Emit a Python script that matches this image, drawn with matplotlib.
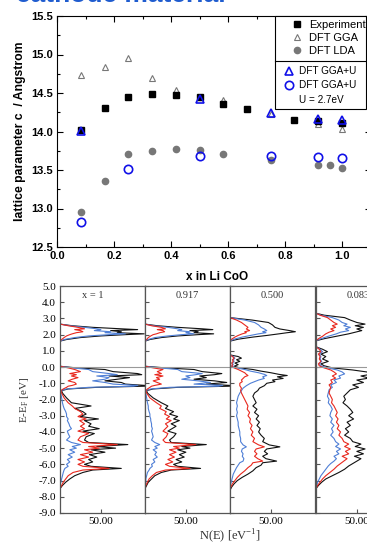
import matplotlib
matplotlib.use("Agg")
import matplotlib.pyplot as plt
from matplotlib.patches import Rectangle
from matplotlib.ticker import MultipleLocator, FormatStrFormatter


# ---- top panel: lattice parameter c vs x in LixCoO2 ----
x_exp = [0.083, 0.167, 0.25, 0.333, 0.417, 0.5, 0.583, 0.667, 0.833, 0.917, 1.0]
c_exp = [14.02, 14.31, 14.45, 14.49, 14.48, 14.45, 14.36, 14.29, 14.15, 14.14, 14.11]

x_gga = [0.083, 0.167, 0.25, 0.333, 0.417, 0.5, 0.583, 0.75, 0.917, 1.0]
c_gga = [14.73, 14.84, 14.96, 14.69, 14.54, 14.45, 14.41, 14.23, 14.10, 14.03]

x_lda = [0.083, 0.167, 0.25, 0.333, 0.417, 0.5, 0.583, 0.75, 0.917, 0.958, 1.0]
c_lda = [12.95, 13.36, 13.71, 13.75, 13.77, 13.76, 13.71, 13.63, 13.56, 13.56, 13.52]

x_ggau = [0.083, 0.5, 0.75, 0.917, 1.0]
c_ggau = [14.01, 14.42, 14.24, 14.16, 14.15]

x_ggau27 = [0.083, 0.25, 0.5, 0.75, 0.917, 1.0]
c_ggau27 = [12.82, 13.51, 13.68, 13.68, 13.67, 13.66]

# ---- bottom panels: DOS for x = 1, 0.917, 0.500, 0.083 ----
panel_labels = ["x = 1", "0.917", "0.500", "0.083"]

e_x1 = [2.65, 2.55, 2.45, 2.36, 2.31, 2.25, 2.18, 2.12, 2.05, 2.00, 1.92, 1.82, 1.70, 1.60,
        0.05, -0.05, -0.15, -0.28, -0.40, -0.47, -0.55, -0.65, -0.75, -0.85, -0.95, -1.05,
        -1.13, -1.18, -1.25, -1.35, -1.45,
        -1.6, -1.9, -2.2, -2.4, -2.55, -2.75, -2.9, -3.05, -3.2, -3.3, -3.5, -3.65, -3.8,
        -3.95, -4.1, -4.3, -4.5, -4.65, -4.78, -4.9, -5.0, -5.1, -5.25, -5.4, -5.55, -5.7,
        -5.85, -6.0, -6.12, -6.25, -6.35, -6.5, -6.7, -6.9, -7.1, -7.3, -7.5]
tot_x1 = [0, 15, 40, 75, 95, 62, 75, 70, 103, 80, 50, 25, 8, 0,
          0, 20, 55, 65, 95, 100, 60, 85, 70, 55, 75, 80, 104, 104, 45, 10, 2,
          3, 8, 14, 38, 18, 28, 32, 25, 47, 30, 38, 35, 48, 28, 42, 32, 30, 35, 83, 45, 68,
          38, 55, 36, 45, 35, 40, 30, 38, 75, 40, 28, 18, 12, 7, 3, 0]
co_x1 = [0, 12, 30, 45, 50, 42, 62, 55, 80, 60, 35, 18, 5, 0,
         0, 15, 35, 40, 60, 70, 45, 60, 55, 40, 55, 65, 95, 90, 35, 8, 1,
         1, 2, 3, 4, 5, 7, 8, 8, 10, 9, 11, 12, 14, 9, 10, 12, 8, 14, 25, 15, 20,
         12, 18, 10, 15, 9, 12, 8, 10, 6, 5, 4, 3, 2, 1, 0, 0]
o_x1 = [0, 10, 22, 30, 18, 25, 28, 20, 15, 12, 8, 5, 2, 0,
        0, 10, 18, 25, 12, 20, 14, 22, 15, 10, 18, 20, 15, 10, 8, 4, 1,
        2, 5, 10, 15, 18, 25, 28, 22, 32, 24, 30, 25, 30, 22, 35, 25, 22, 28, 70, 35, 48,
        30, 40, 25, 35, 22, 30, 22, 28, 60, 28, 16, 10, 7, 4, 2, 0]

e_x0917 = e_x1
tot_x0917 = [0, 15, 40, 70, 83, 55, 65, 60, 84, 65, 40, 20, 6, 0,
             0, 25, 60, 70, 94, 85, 67, 75, 60, 85, 100, 75, 104, 104, 40, 10, 2,
             3, 10, 20, 28, 25, 35, 30, 40, 35, 42, 32, 38, 33, 28, 38, 35, 30, 32, 75, 45, 55,
             40, 50, 42, 48, 38, 45, 35, 40, 68, 32, 20, 12, 8, 4, 2, 0]
co_x0917 = [0, 10, 28, 40, 45, 40, 55, 50, 60, 45, 28, 12, 4, 0,
            0, 18, 40, 45, 70, 62, 50, 55, 45, 65, 80, 60, 95, 90, 30, 7, 1,
            1, 2, 3, 4, 4, 5, 6, 6, 7, 7, 8, 8, 9, 8, 9, 10, 8, 12, 18, 12, 15,
            10, 14, 12, 15, 10, 12, 8, 9, 6, 5, 3, 2, 1, 1, 0, 0]
o_x0917 = [0, 8, 20, 25, 15, 22, 24, 18, 14, 10, 7, 4, 2, 0,
           0, 10, 22, 15, 20, 12, 22, 14, 18, 10, 15, 20, 12, 8, 6, 3, 1,
           2, 6, 14, 20, 18, 26, 24, 30, 26, 32, 25, 28, 25, 22, 28, 26, 22, 25, 62, 35, 42,
           30, 38, 30, 36, 28, 34, 25, 30, 55, 25, 14, 9, 5, 3, 1, 0]

e_x05 = [3.05, 2.9, 2.75, 2.6, 2.45, 2.35, 2.25, 2.18, 2.12, 2.05, 1.95, 1.85, 1.72, 1.60,
         0.75, 0.65, 0.55, 0.45, 0.35, 0.25, 0.15, 0.05, -0.05, -0.15, -0.25, -0.35, -0.45,
         -0.52, -0.6, -0.7, -0.8, -0.9, -1.0, -1.15, -1.3, -1.45,
         -1.6, -1.8, -2.0, -2.2, -2.4, -2.6, -2.8, -3.0, -3.2, -3.4, -3.6, -3.8, -4.0, -4.2,
         -4.4, -4.6, -4.8, -4.92, -5.05, -5.2, -5.35, -5.5, -5.65, -5.8, -5.9, -6.05, -6.2,
         -6.4, -6.6, -6.8, -7.0, -7.2, -7.4, -7.6]
tot_x05 = [0, 27, 47, 52, 55, 61, 73, 80, 70, 60, 45, 28, 10, 0,
           0, 10, 14, 8, 12, 6, 10, 5, 12, 28, 38, 50, 60, 70, 58, 65, 52, 55, 45, 42, 36, 34,
           30, 28, 30, 32, 28, 33, 30, 35, 32, 36, 33, 37, 35, 38, 42, 40, 48, 61, 45, 42, 46,
           40, 44, 57, 40, 38, 32, 28, 22, 15, 9, 5, 2, 0]
co_x05 = [0, 18, 30, 35, 38, 42, 45, 40, 44, 35, 25, 15, 5, 0,
          0, 4, 6, 4, 5, 3, 4, 2, 8, 18, 25, 35, 42, 45, 40, 42, 35, 30, 25, 20, 16, 14,
          12, 10, 9, 8, 9, 8, 9, 8, 9, 10, 10, 11, 12, 12, 13, 13, 16, 20, 15, 14, 16,
          15, 17, 16, 12, 10, 8, 6, 4, 3, 2, 1, 0, 0]
o_x05 = [0, 8, 14, 18, 22, 20, 24, 18, 20, 15, 10, 6, 2, 0,
         0, 3, 5, 3, 4, 2, 3, 2, 5, 10, 14, 18, 20, 22, 18, 16, 14, 15, 12, 12, 14, 13,
         14, 16, 18, 20, 22, 21, 24, 22, 25, 24, 27, 25, 28, 26, 30, 28, 35, 42, 32, 30, 33,
         30, 34, 40, 28, 26, 22, 18, 13, 9, 6, 3, 1, 0]

e_x0083 = [3.32, 3.2, 3.05, 2.9, 2.75, 2.65, 2.55, 2.45, 2.35, 2.25, 2.15, 2.05, 1.9, 1.75, 1.62,
           1.25, 1.1, 0.95, 0.8, 0.65, 0.5, 0.35, 0.2, 0.08, -0.05, -0.18, -0.3, -0.42, -0.55,
           -0.68, -0.8, -0.95, -1.1, -1.25, -1.4, -1.6, -1.8, -2.0, -2.2, -2.4, -2.6, -2.8,
           -3.0, -3.2, -3.4, -3.6, -3.8, -4.0, -4.2, -4.4, -4.6, -4.75, -4.9, -5.05, -5.2,
           -5.35, -5.5, -5.65, -5.8, -5.95, -6.1, -6.3, -6.5, -6.7, -6.9, -7.1, -7.3, -7.5]
tot_x0083 = [0, 10, 35, 42, 50, 60, 48, 58, 50, 56, 48, 40, 25, 10, 0,
             0, 8, 14, 6, 12, 8, 15, 6, 10, 20, 45, 62, 70, 55, 65, 50, 58, 45, 52, 42, 38, 34,
             36, 33, 38, 42, 45, 40, 46, 38, 42, 36, 40, 35, 42, 45, 55, 48, 60, 50, 58, 47,
             55, 50, 45, 40, 35, 28, 20, 12, 7, 3, 0]
co_x0083 = [0, 6, 20, 28, 32, 38, 34, 42, 36, 40, 30, 25, 15, 6, 0,
            0, 5, 8, 4, 6, 5, 7, 4, 6, 14, 26, 32, 35, 28, 30, 22, 25, 18, 20, 16, 15, 14,
            16, 15, 18, 20, 18, 17, 20, 18, 22, 19, 21, 18, 22, 24, 28, 24, 30, 25, 28, 22,
            25, 22, 18, 15, 12, 9, 6, 4, 2, 1, 0]
o_x0083 = [0, 5, 14, 18, 22, 26, 20, 24, 18, 22, 16, 12, 8, 3, 0,
           0, 4, 6, 3, 5, 4, 6, 3, 4, 10, 18, 22, 25, 20, 24, 18, 20, 16, 18, 17, 16, 18,
           20, 19, 22, 24, 26, 24, 27, 25, 28, 26, 30, 28, 32, 34, 40, 35, 42, 36, 40, 32,
           38, 34, 30, 26, 22, 17, 12, 8, 5, 2, 0]

panels = [(e_x1, tot_x1, co_x1, o_x1),
          (e_x0917, tot_x0917, co_x0917, o_x0917),
          (e_x05, tot_x05, co_x05, o_x05),
          (e_x0083, tot_x0083, co_x0083, o_x0083)]


W, H = 367, 543
fig = plt.figure(figsize=(W / 100, H / 100), dpi=100)

sans = "Liberation Sans"
serif = "Liberation Serif"

# title, mostly cut off at the top of the picture
fig.text(16 / W, 1 - 1.5 / H, "cathode material", color="#1f5ccf", fontsize=19,
         fontweight="bold", family=sans, va="baseline", ha="left")

# top axes geometry in pixels
AX_L, AX_T, AX_W, AX_H = 57, 16, 313.5, 231
ax = fig.add_axes([AX_L / W, 1 - (AX_T + AX_H) / H, AX_W / W, AX_H / H])


def ax_xy(px, py):
    # figure pixel -> axes fraction (for legend furniture)
    return (px - AX_L) / AX_W, 1 - (py - AX_T) / AX_H


ax.plot(x_lda, c_lda, "o", color="#777777", ms=4.5, label="DFT LDA")
ax.plot(x_gga, c_gga, "^", mfc="none", mec="#777777", ms=5, mew=0.8, label="DFT GGA")
ax.plot(x_exp, c_exp, "s", color="black", ms=4, label="Experiment")
ax.plot(x_ggau, c_ggau, "^", mfc="none", mec="#1010e8", ms=6, mew=1.2, label="DFT GGA+U")
ax.plot(x_ggau27, c_ggau27, "o", mfc="none", mec="#1010e8", ms=6, mew=1.2,
        label="DFT GGA+U ")
ax.set_xlim(0, 1.1)
ax.set_ylim(12.5, 15.5)
ax.xaxis.set_major_locator(MultipleLocator(0.2))
ax.xaxis.set_minor_locator(MultipleLocator(0.1))
ax.yaxis.set_major_locator(MultipleLocator(0.5))
ax.yaxis.set_minor_locator(MultipleLocator(0.25))
ax.xaxis.set_major_formatter(FormatStrFormatter("%.1f"))
ax.yaxis.set_major_formatter(FormatStrFormatter("%.1f"))
ax.tick_params(which="both", direction="in", top=True, right=True, width=0.8)
ax.tick_params(which="major", length=4, labelsize=8, pad=3)
ax.tick_params(which="minor", length=2.5)
for lab in ax.get_xticklabels() + ax.get_yticklabels():
    lab.set_fontweight("bold")
    lab.set_family(sans)
for s in ax.spines.values():
    s.set_linewidth(0.8)
ax.set_ylabel("lattice parameter c  / Angstrom", fontsize=8.8, fontweight="bold",
              family=sans, labelpad=4)

# legend: one framed box split in two parts
bx, by = ax_xy(275, 109)
bx2, _ = ax_xy(366, 109)
ax.add_patch(Rectangle((bx, by), bx2 - bx, 1 - by, transform=ax.transAxes,
                       facecolor="white", edgecolor="black", lw=0.8, zorder=4,
                       clip_on=False))
sx, sy = ax_xy(275, 61)
ax.plot([bx, bx2], [sy, sy], transform=ax.transAxes, color="black", lw=0.8,
        zorder=5, clip_on=False)

h = {l.get_label(): l for l in ax.get_lines()}
lx1, ly1 = ax_xy(291.5, 20)
leg1 = ax.legend(handles=[h["Experiment"], h["DFT GGA"], h["DFT LDA"]],
                 loc="upper left", bbox_to_anchor=(lx1, ly1), frameon=False,
                 borderpad=0, borderaxespad=0, handlelength=1.0, handletextpad=0.6,
                 labelspacing=0.28, prop={"family": sans, "size": 8})
leg1.set_zorder(6)
ax.add_artist(leg1)
lx2, ly2 = ax_xy(284, 66)
leg2 = ax.legend(handles=[h["DFT GGA+U"], h["DFT GGA+U "]],
                 loc="upper left", bbox_to_anchor=(lx2, ly2), frameon=False,
                 borderpad=0, borderaxespad=0, handlelength=1.0, handletextpad=0.5,
                 labelspacing=0.45, prop={"family": sans, "size": 7.2})
leg2.set_zorder(6)
ux, uy = ax_xy(299, 100)
ax.text(ux, uy, "U = 2.7eV", transform=ax.transAxes, family=sans, fontsize=7.2,
        va="center", ha="left", zorder=6)

fig.text(217 / W, 1 - 277 / H, "x in Li CoO", fontsize=8.5, fontweight="bold",
         family=sans, ha="center", va="center")

# DOS panels
lefts = [60, 145, 230, 316]
for i, (e, tot, co, o) in enumerate(panels):
    a = fig.add_axes([lefts[i] / W, 1 - 513 / H, 85 / W, 227 / H])
    a.plot(tot, e, color="#111111", lw=0.8)
    a.plot(co, e, color="#4f7fd6", lw=0.8)
    a.plot(o, e, color="#e8281e", lw=0.8)
    a.axhline(0, color="#999999", lw=0.8)
    a.set_xlim(0, 104)
    a.set_ylim(-9, 5)
    a.set_xticks([50])
    a.xaxis.set_major_formatter(FormatStrFormatter("%.2f"))
    a.yaxis.set_major_locator(MultipleLocator(1.0))
    a.yaxis.set_major_formatter(FormatStrFormatter("%.1f"))
    a.tick_params(direction="in", length=3, width=0.8, color="#555555",
                  labelsize=8, pad=3)
    for lab in a.get_xticklabels() + a.get_yticklabels():
        lab.set_family(serif)
    if i > 0:
        a.tick_params(labelleft=False)
    for s in a.spines.values():
        s.set_color("#555555")
        s.set_linewidth(0.9)
    tx = 0.39 if i == 0 else 0.5
    a.text(tx, 0.96, panel_labels[i], transform=a.transAxes, ha="center", va="center",
           family=serif, fontsize=7.5, color="#333333")
    if i == 0:
        a.set_ylabel("E-E$_\\mathregular{F}$ [eV]", family=serif, fontsize=8,
                     color="#333333", labelpad=5)

fig.text(230 / W, 1 - 536 / H, "N(E) [eV$^\\mathregular{-1}$]", family=serif, fontsize=9,
         ha="center", va="center", color="#333333")

fig.savefig("out.png", dpi=100)
